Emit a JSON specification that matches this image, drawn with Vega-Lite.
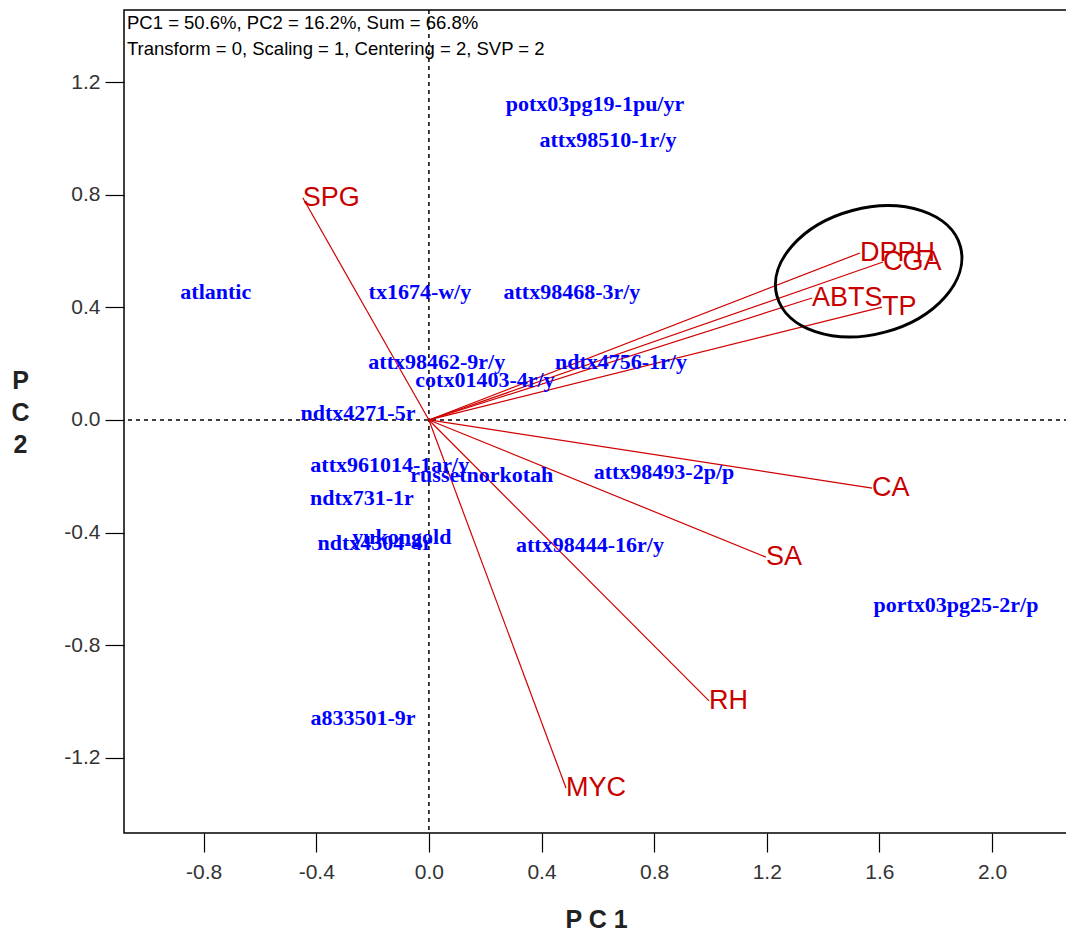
{
  "$schema": "https://vega.github.io/schema/vega-lite/v6.json",
  "width": 944,
  "height": 823,
  "autosize": "none",
  "padding": {"left": 124, "top": 10, "right": 0, "bottom": 101},
  "background": "white",
  "config": {
    "view": {"stroke": "black", "strokeWidth": 1.5},
    "axis": {
      "grid": false,
      "domain": false,
      "tickColor": "black",
      "tickSize": 19,
      "tickWidth": 1.2,
      "labelFont": "Liberation Sans",
      "labelFontSize": 21,
      "labelColor": "#333333",
      "labelExpr": "replace(format(datum.value, '.1f'), '\u2212', '-')",
      "titleFont": "Liberation Sans",
      "titleFontSize": 25,
      "titleFontWeight": "bold",
      "titleColor": "#222222"
    }
  },
  "datasets": {
    "samples": [
      {"name": "potx03pg19-1pu/yr", "pc1": 0.590, "pc2": 1.123},
      {"name": "attx98510-1r/y", "pc1": 0.636, "pc2": 0.995},
      {"name": "atlantic", "pc1": -0.757, "pc2": 0.455},
      {"name": "tx1674-w/y", "pc1": -0.032, "pc2": 0.455},
      {"name": "attx98468-3r/y", "pc1": 0.508, "pc2": 0.455},
      {"name": "attx98462-9r/y", "pc1": 0.028, "pc2": 0.206},
      {"name": "ndtx4756-1r/y", "pc1": 0.682, "pc2": 0.206},
      {"name": "cotx01403-4r/y", "pc1": 0.199, "pc2": 0.142},
      {"name": "ndtx4271-5r", "pc1": -0.252, "pc2": 0.025},
      {"name": "attx961014-1ar/y", "pc1": -0.139, "pc2": -0.160},
      {"name": "russetnorkotah", "pc1": 0.188, "pc2": -0.195},
      {"name": "attx98493-2p/p", "pc1": 0.835, "pc2": -0.185},
      {"name": "ndtx731-1r", "pc1": -0.238, "pc2": -0.277},
      {"name": "yukongold", "pc1": -0.096, "pc2": -0.416},
      {"name": "ndtx4304-4r", "pc1": -0.192, "pc2": -0.437},
      {"name": "attx98444-16r/y", "pc1": 0.572, "pc2": -0.444},
      {"name": "portx03pg25-2r/p", "pc1": 1.872, "pc2": -0.657},
      {"name": "a833501-9r", "pc1": -0.234, "pc2": -1.059}
    ],
    "vectors": [
      {"name": "SPG", "pc1": -0.448, "pc2": 0.789},
      {"name": "DPPH", "pc1": 1.531, "pc2": 0.593},
      {"name": "CGA", "pc1": 1.613, "pc2": 0.561},
      {"name": "ABTS", "pc1": 1.361, "pc2": 0.433},
      {"name": "TP", "pc1": 1.609, "pc2": 0.401},
      {"name": "CA", "pc1": 1.574, "pc2": -0.242},
      {"name": "SA", "pc1": 1.197, "pc2": -0.487},
      {"name": "RH", "pc1": 0.995, "pc2": -0.998},
      {"name": "MYC", "pc1": 0.487, "pc2": -1.307}
    ],
    "highlight": [
      {"pc1": 1.562, "pc2": 0.528}
    ]
  },
  "layer": [
    {
      "data": {"values": [{}]},
      "mark": {"type": "rule", "strokeDash": [4, 4], "color": "black", "strokeWidth": 1.5},
      "encoding": {
        "y": {"datum": 0, "type": "quantitative", "scale": {"domain": [-1.467, 1.456], "nice": false, "zero": false},
          "axis": {"values": [-1.2, -0.8, -0.4, 0, 0.4, 0.8, 1.2], "labelPadding": 5,
            "title": ["P", "C", "2"], "titleAngle": 0, "titleAlign": "center", "titleBaseline": "middle",
            "titleX": -104, "titleY": 370, "titleLineHeight": 32}}
      }
    },
    {
      "data": {"values": [{}]},
      "mark": {"type": "rule", "strokeDash": [4, 4], "color": "black", "strokeWidth": 1.5},
      "encoding": {
        "x": {"datum": 0, "type": "quantitative", "scale": {"domain": [-1.083, 2.27], "nice": false, "zero": false},
          "axis": {"values": [-0.8, -0.4, 0, 0.4, 0.8, 1.2, 1.6, 2.0], "labelPadding": 9,
            "title": "P  C  1", "titlePadding": 25}}
      }
    },
    {
      "data": {"name": "vectors"},
      "mark": {"type": "rule", "color": "#d00000", "strokeWidth": 1.2},
      "encoding": {
        "x": {"field": "pc1", "type": "quantitative"},
        "y": {"field": "pc2", "type": "quantitative"},
        "x2": {"datum": 0},
        "y2": {"datum": 0}
      }
    },
    {
      "data": {"name": "samples"},
      "mark": {"type": "text", "font": "Liberation Serif", "fontWeight": "bold", "fontSize": 22, "color": "#0000ff", "align": "center", "baseline": "middle"},
      "encoding": {
        "x": {"field": "pc1", "type": "quantitative"},
        "y": {"field": "pc2", "type": "quantitative"},
        "text": {"field": "name"}
      }
    },
    {
      "data": {"name": "vectors"},
      "mark": {"type": "text", "font": "Liberation Sans", "fontSize": 27, "color": "#c80000", "align": "left", "baseline": "middle"},
      "encoding": {
        "x": {"field": "pc1", "type": "quantitative"},
        "y": {"field": "pc2", "type": "quantitative"},
        "text": {"field": "name"}
      }
    },
    {
      "data": {"name": "highlight"},
      "mark": {"type": "point", "shape": "M -1 0 A 1 0.663 0 1 0 1 0 A 1 0.663 0 1 0 -1 0 Z", "filled": false, "size": 36100, "stroke": "black", "strokeWidth": 3, "opacity": 1, "angle": 345},
      "encoding": {
        "x": {"field": "pc1", "type": "quantitative"},
        "y": {"field": "pc2", "type": "quantitative"}
      }
    },
    {
      "data": {"values": [{}]},
      "mark": {"type": "text", "text": ["PC1 = 50.6%, PC2 = 16.2%, Sum = 66.8%", "Transform = 0, Scaling = 1, Centering = 2, SVP = 2"], "font": "Liberation Sans", "fontSize": 18.5, "lineHeight": 26, "color": "black", "align": "left", "baseline": "top", "dx": 3, "dy": 4},
      "encoding": {
        "x": {"datum": -1.083},
        "y": {"datum": 1.456}
      }
    }
  ]
}
